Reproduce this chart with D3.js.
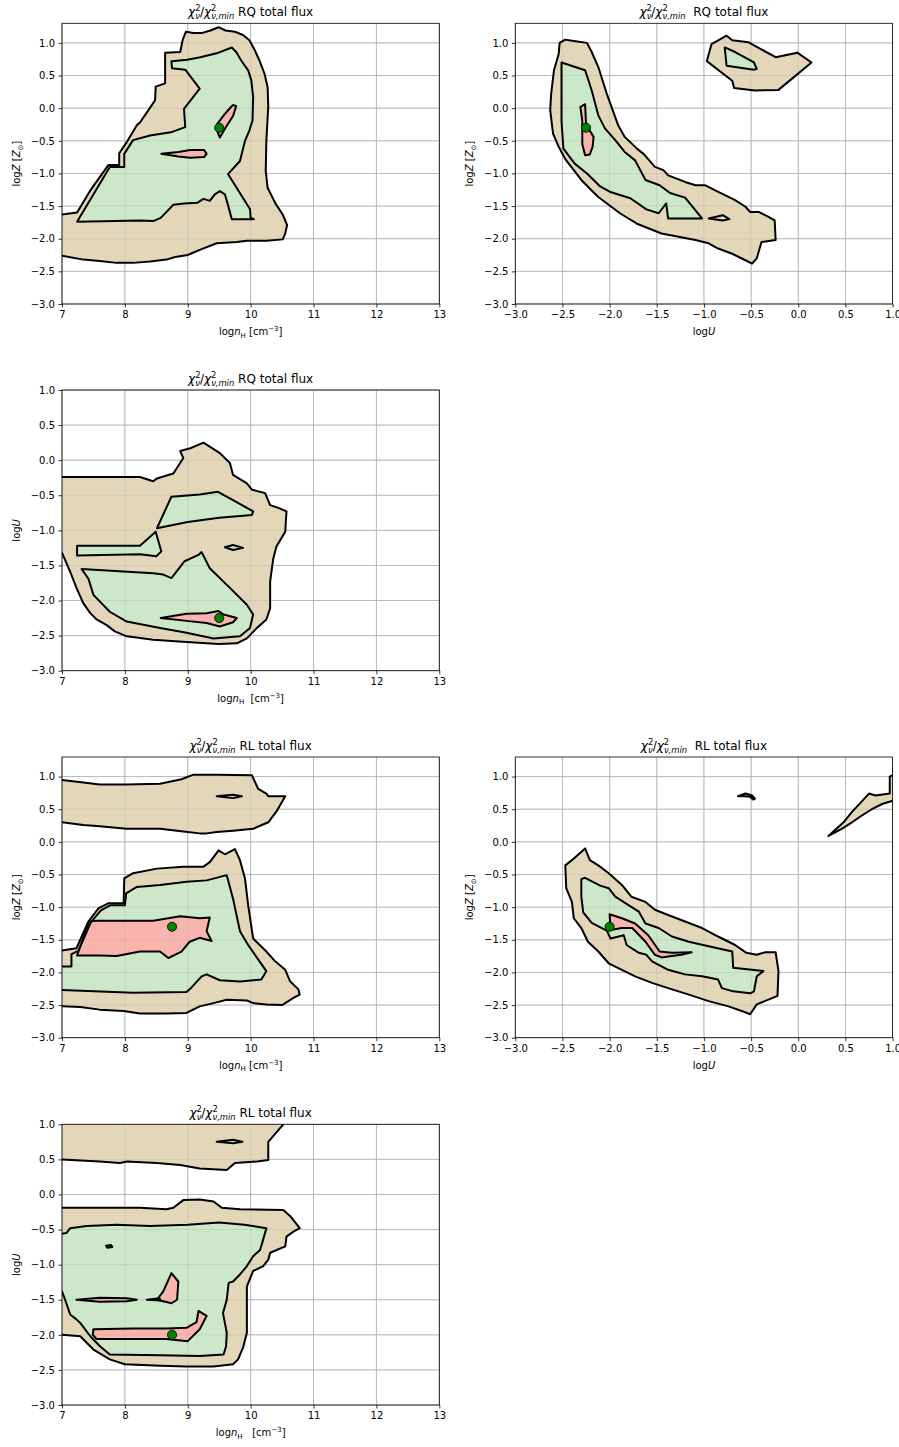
<!DOCTYPE html>
<html><head><meta charset="utf-8">
<script src="https://cdn.jsdelivr.net/npm/d3@7"></script>
<style>
body{margin:0;background:#fff}
svg{display:block;font-family:"DejaVu Sans",sans-serif}
</style>
</head><body>
<svg id="chart" width="899" height="1447"></svg>
<script>
// ---------- tick values ----------
const nHTicks = [7, 8, 9, 10, 11, 12, 13];
const uTicksX = [-3.0, -2.5, -2.0, -1.5, -1.0, -0.5, 0.0, 0.5, 1.0];
const yTicks = [-3.0, -2.5, -2.0, -1.5, -1.0, -0.5, 0.0, 0.5, 1.0];

// ---------- best-fit points [x, y] per panel ----------
const bestFit = [[9.5, -0.3], [-2.25, -0.3], [9.5, -2.25], [8.75, -1.3], [-2.0, -1.3], [8.75, -2.0]];

// ---------- panel 1: logZ vs log nH (RQ) ----------
const p1Tan = [[6.9,-1.64],[7.24,-1.60],[7.45,-1.26],[7.74,-0.87],[7.91,-0.87],[7.91,-0.69],[8.03,-0.52],[8.19,-0.26],[8.24,-0.22],[8.48,0.12],[8.49,0.33],[8.64,0.38],[8.64,0.85],[8.88,0.86],[8.92,1.05],[8.97,1.17],[9.09,1.15],[9.22,1.15],[9.36,1.19],[9.49,1.24],[9.60,1.19],[9.75,1.17],[9.88,1.12],[9.98,1.04],[10.06,0.90],[10.14,0.73],[10.22,0.53],[10.27,0.32],[10.28,0.02],[10.25,-0.50],[10.24,-0.96],[10.27,-1.22],[10.40,-1.47],[10.51,-1.63],[10.58,-1.79],[10.55,-1.92],[10.51,-2.01],[10.25,-2.03],[9.94,-2.03],[9.78,-2.05],[9.46,-2.07],[9.19,-2.17],[9.00,-2.25],[8.80,-2.28],[8.66,-2.32],[8.40,-2.35],[8.13,-2.37],[7.87,-2.37],[7.60,-2.34],[7.34,-2.32],[7.00,-2.26],[6.9,-2.26]];
const p1Green = [[7.24,-1.74],[8.24,-1.72],[8.45,-1.73],[8.57,-1.68],[8.70,-1.55],[8.77,-1.48],[8.94,-1.46],[9.15,-1.45],[9.25,-1.39],[9.35,-1.42],[9.43,-1.32],[9.51,-1.27],[9.59,-1.32],[9.65,-1.52],[9.70,-1.70],[10.05,-1.70],[10.00,-1.68],[9.99,-1.55],[9.64,-1.01],[9.83,-0.81],[9.91,-0.50],[9.98,-0.34],[10.03,-0.19],[10.04,0.17],[10.01,0.43],[9.96,0.58],[9.85,0.73],[9.77,0.86],[9.70,0.93],[9.46,0.84],[9.20,0.78],[8.99,0.74],[8.74,0.72],[8.75,0.61],[8.96,0.59],[9.19,0.30],[8.94,-0.01],[8.96,-0.29],[8.73,-0.37],[8.40,-0.42],[8.13,-0.49],[7.99,-0.70],[7.99,-0.90],[7.76,-0.90]];
const p1PinkA = [[9.72,0.05],[9.77,0.03],[9.72,-0.12],[9.60,-0.30],[9.51,-0.45],[9.46,-0.33],[9.47,-0.24],[9.58,-0.10],[9.68,0.01]];
const p1PinkB = [[8.58,-0.70],[8.85,-0.67],[9.04,-0.64],[9.26,-0.64],[9.30,-0.70],[9.26,-0.75],[9.04,-0.76],[8.85,-0.74]];

// ---------- panel 2: logZ vs logU (RQ) ----------
const p2Tan = [[-2.53,1.0],[-2.47,1.05],[-2.38,1.03],[-2.24,1.0],[-2.19,0.86],[-2.12,0.63],[-2.03,0.22],[-1.98,0.02],[-1.91,-0.26],[-1.84,-0.44],[-1.71,-0.62],[-1.64,-0.70],[-1.52,-0.90],[-1.43,-0.95],[-1.38,-1.03],[-1.20,-1.13],[-1.09,-1.18],[-0.99,-1.18],[-0.88,-1.26],[-0.67,-1.41],[-0.56,-1.51],[-0.51,-1.59],[-0.42,-1.59],[-0.32,-1.66],[-0.25,-1.72],[-0.24,-2.02],[-0.39,-2.05],[-0.44,-2.30],[-0.49,-2.38],[-0.56,-2.33],[-0.70,-2.23],[-0.85,-2.15],[-0.95,-2.07],[-1.09,-2.02],[-1.27,-1.97],[-1.45,-1.92],[-1.59,-1.84],[-1.71,-1.77],[-1.80,-1.69],[-1.89,-1.61],[-2.00,-1.49],[-2.12,-1.36],[-2.19,-1.26],[-2.30,-1.10],[-2.38,-0.95],[-2.47,-0.78],[-2.54,-0.59],[-2.60,-0.39],[-2.63,-0.03],[-2.62,0.22],[-2.59,0.58],[-2.54,0.83]];
const p2Green = [[-2.51,0.70],[-2.26,0.58],[-2.23,0.45],[-2.19,0.27],[-2.12,-0.11],[-2.05,-0.31],[-1.94,-0.49],[-1.84,-0.67],[-1.73,-0.80],[-1.62,-1.10],[-1.47,-1.18],[-1.36,-1.30],[-1.20,-1.37],[-1.02,-1.69],[-1.38,-1.69],[-1.40,-1.46],[-1.48,-1.61],[-1.61,-1.55],[-1.78,-1.38],[-2.00,-1.28],[-2.10,-1.20],[-2.24,-1.00],[-2.37,-0.85],[-2.49,-0.62],[-2.51,-0.20]];
const p2Pink = [[-2.31,0.02],[-2.26,0.06],[-2.25,-0.25],[-2.17,-0.44],[-2.18,-0.59],[-2.21,-0.71],[-2.26,-0.72],[-2.29,-0.55],[-2.29,-0.19]];
const p2GreenSmall = [[-0.95,-1.69],[-0.80,-1.64],[-0.73,-1.70],[-0.80,-1.72]];
const p2TanIsland = [[-0.97,0.72],[-0.92,0.98],[-0.76,1.11],[-0.70,1.04],[-0.53,1.01],[-0.24,0.78],[-0.01,0.85],[0.14,0.70],[-0.21,0.28],[-0.46,0.27],[-0.68,0.31],[-0.70,0.42]];
const p2GreenIsland = [[-0.78,0.93],[-0.67,0.86],[-0.47,0.70],[-0.44,0.60],[-0.47,0.59],[-0.76,0.65]];

// ---------- panel 3: logU vs log nH (RQ) ----------
const p3Tan = [[6.9,-0.24],[8.24,-0.24],[8.45,-0.30],[8.51,-0.26],[8.77,-0.19],[8.93,0.03],[8.88,0.13],[9.04,0.17],[9.25,0.25],[9.51,0.10],[9.67,-0.04],[9.72,-0.21],[9.94,-0.33],[10.02,-0.42],[10.23,-0.47],[10.31,-0.64],[10.44,-0.68],[10.57,-0.73],[10.55,-1.02],[10.41,-1.23],[10.36,-1.40],[10.31,-1.73],[10.31,-2.11],[10.25,-2.27],[10.10,-2.39],[9.94,-2.54],[9.78,-2.61],[9.49,-2.62],[8.98,-2.59],[8.45,-2.56],[8.03,-2.51],[7.84,-2.44],[7.71,-2.35],[7.55,-2.27],[7.45,-2.18],[7.34,-2.04],[7.23,-1.82],[7.13,-1.59],[7.00,-1.32],[6.9,-1.32]];
const p3GreenA = [[8.51,-0.97],[8.74,-0.52],[9.19,-0.49],[9.48,-0.45],[9.72,-0.57],[10.04,-0.73],[10.02,-0.78],[9.50,-0.82],[9.00,-0.88]];
const p3GreenB = [[7.24,-1.22],[8.24,-1.22],[8.49,-1.02],[8.58,-1.30],[8.50,-1.37],[8.24,-1.34],[7.24,-1.36]];
const p3GreenC = [[7.31,-1.55],[8.45,-1.61],[8.61,-1.63],[8.74,-1.68],[8.95,-1.44],[9.17,-1.35],[9.22,-1.31],[9.35,-1.54],[9.67,-1.82],[9.94,-2.06],[10.04,-2.20],[9.99,-2.39],[9.83,-2.51],[9.41,-2.54],[8.98,-2.46],[8.56,-2.39],[8.03,-2.30],[7.76,-2.16],[7.50,-1.92],[7.42,-1.69]];
const p3GreenTiny = [[9.59,-1.24],[9.72,-1.21],[9.88,-1.25],[9.72,-1.28]];
const p3Pink = [[8.57,-2.25],[8.98,-2.19],[9.30,-2.18],[9.49,-2.15],[9.57,-2.20],[9.78,-2.25],[9.72,-2.31],[9.51,-2.37],[9.30,-2.32],[8.98,-2.29]];

// ---------- panel 4: logZ vs log nH (RL) ----------
const p4TanTop = [[6.9,0.96],[7.34,0.91],[7.60,0.88],[8.03,0.88],[8.56,0.89],[8.90,0.96],[9.09,1.03],[9.46,1.03],[10.02,1.02],[10.12,0.81],[10.25,0.74],[10.28,0.70],[10.55,0.70],[10.42,0.48],[10.28,0.30],[10.04,0.20],[9.72,0.17],[9.46,0.15],[9.30,0.13],[9.19,0.13],[8.93,0.16],[8.56,0.20],[8.03,0.20],[7.60,0.24],[7.34,0.26],[7.00,0.30],[6.9,0.30]];
const p4TopInner = [[9.46,0.70],[9.72,0.72],[9.86,0.70],[9.72,0.67]];
const p4Tan = [[6.9,-1.68],[7.23,-1.63],[7.42,-1.22],[7.58,-1.02],[7.74,-0.94],[7.98,-0.94],[7.99,-0.56],[8.13,-0.48],[8.51,-0.41],[8.93,-0.38],[9.25,-0.38],[9.35,-0.31],[9.49,-0.13],[9.59,-0.19],[9.75,-0.11],[9.83,-0.28],[9.91,-0.56],[9.96,-0.97],[10.04,-1.48],[10.25,-1.68],[10.39,-1.83],[10.55,-1.96],[10.63,-2.14],[10.76,-2.26],[10.78,-2.34],[10.68,-2.39],[10.50,-2.50],[10.25,-2.49],[10.04,-2.47],[9.94,-2.43],[9.62,-2.42],[9.41,-2.47],[9.19,-2.52],[8.98,-2.62],[8.66,-2.63],[8.24,-2.63],[7.98,-2.59],[7.60,-2.57],[7.29,-2.53],[7.00,-2.52],[6.9,-2.52]];
const p4Green = [[6.9,-1.91],[7.15,-1.91],[7.15,-1.72],[7.26,-1.67],[7.46,-1.23],[7.62,-1.05],[7.77,-0.97],[8.00,-0.97],[8.02,-0.79],[8.19,-0.69],[8.56,-0.66],[8.98,-0.61],[9.30,-0.59],[9.62,-0.51],[9.72,-0.87],[9.83,-1.37],[9.96,-1.58],[10.25,-1.98],[10.17,-2.11],[9.83,-2.14],[9.51,-2.12],[9.30,-2.03],[9.22,-2.06],[9.06,-2.23],[8.98,-2.30],[8.13,-2.31],[7.00,-2.27],[6.9,-2.27]];
const p4Pink = [[7.24,-1.74],[7.43,-1.22],[7.55,-1.21],[8.45,-1.21],[8.88,-1.14],[9.19,-1.17],[9.35,-1.16],[9.30,-1.37],[9.38,-1.52],[9.19,-1.47],[9.03,-1.53],[8.90,-1.68],[8.69,-1.78],[8.56,-1.68],[8.24,-1.68],[7.87,-1.75],[7.60,-1.74]];

// ---------- panel 5: logZ vs logU (RL) ----------
const p5Tan = [[-2.47,-0.36],[-2.40,-0.28],[-2.26,-0.10],[-2.21,-0.28],[-2.12,-0.36],[-2.01,-0.48],[-1.87,-0.66],[-1.77,-0.84],[-1.62,-0.92],[-1.52,-1.04],[-1.38,-1.12],[-1.20,-1.22],[-1.02,-1.32],[-0.85,-1.45],[-0.67,-1.58],[-0.55,-1.70],[-0.44,-1.73],[-0.35,-1.69],[-0.24,-1.69],[-0.21,-1.98],[-0.22,-2.36],[-0.44,-2.49],[-0.51,-2.64],[-0.60,-2.59],[-0.74,-2.52],[-0.95,-2.44],[-1.16,-2.34],[-1.38,-2.24],[-1.55,-2.16],[-1.73,-2.06],[-1.87,-1.96],[-2.01,-1.86],[-2.12,-1.68],[-2.23,-1.53],[-2.30,-1.32],[-2.38,-1.17],[-2.40,-0.92],[-2.46,-0.71]];
const p5Green = [[-2.30,-0.57],[-2.26,-0.55],[-2.10,-0.67],[-2.01,-0.71],[-1.94,-0.84],[-1.80,-0.97],[-1.69,-1.07],[-1.62,-1.25],[-1.48,-1.32],[-1.34,-1.45],[-1.16,-1.53],[-0.95,-1.60],[-0.70,-1.68],[-0.69,-1.93],[-0.37,-1.98],[-0.44,-2.06],[-0.47,-2.29],[-0.51,-2.32],[-0.69,-2.29],[-0.81,-2.24],[-0.85,-2.11],[-1.02,-2.06],[-1.20,-2.03],[-1.38,-1.96],[-1.55,-1.83],[-1.61,-1.73],[-1.69,-1.70],[-1.82,-1.58],[-1.85,-1.43],[-1.99,-1.48],[-2.03,-1.36],[-2.19,-1.24],[-2.28,-1.08],[-2.30,-0.84]];
const p5Pink = [[-2.00,-1.11],[-1.87,-1.17],[-1.73,-1.25],[-1.59,-1.43],[-1.47,-1.68],[-1.34,-1.70],[-1.13,-1.69],[-1.24,-1.73],[-1.34,-1.75],[-1.45,-1.77],[-1.52,-1.73],[-1.62,-1.53],[-1.76,-1.32],[-1.87,-1.32],[-1.99,-1.35]];
const p5Small = [[-0.64,0.70],[-0.56,0.74],[-0.49,0.71],[-0.46,0.66],[-0.48,0.65],[-0.51,0.69],[-0.57,0.70]];
const p5Sliver = [[0.32,0.09],[0.48,0.30],[0.57,0.46],[0.75,0.74],[0.82,0.71],[0.97,0.74],[0.97,1.00],[1.05,1.05],[1.05,0.62],[1.00,0.63],[0.89,0.58],[0.78,0.50],[0.67,0.40],[0.57,0.30],[0.46,0.20]];

// ---------- panel 6: logU vs log nH (RL) ----------
const p6TanTop = [[6.9,1.2],[10.6,1.2],[10.52,1.0],[10.28,0.75],[10.28,0.49],[10.10,0.47],[9.75,0.45],[9.62,0.35],[9.19,0.37],[8.88,0.42],[8.51,0.45],[8.03,0.47],[7.92,0.45],[7.60,0.47],[7.00,0.50],[6.9,0.50]];
const p6TopInner = [[9.46,0.75],[9.72,0.78],[9.87,0.75],[9.72,0.73]];
const p6Tan = [[6.9,-0.19],[8.24,-0.19],[8.66,-0.21],[8.77,-0.19],[8.93,-0.08],[9.19,-0.07],[9.41,-0.10],[9.54,-0.19],[9.83,-0.21],[10.52,-0.22],[10.63,-0.31],[10.78,-0.48],[10.68,-0.53],[10.57,-0.60],[10.55,-0.74],[10.31,-0.83],[10.28,-0.93],[10.20,-1.02],[10.04,-1.09],[9.94,-1.31],[9.94,-1.97],[9.88,-2.18],[9.80,-2.35],[9.72,-2.42],[9.41,-2.45],[8.98,-2.45],[8.56,-2.44],[8.00,-2.42],[7.76,-2.35],[7.50,-2.21],[7.29,-2.02],[7.00,-2.00],[6.9,-2.00]];
const p6Green = [[6.9,-0.57],[7.07,-0.55],[7.13,-0.48],[7.39,-0.45],[7.87,-0.43],[8.40,-0.45],[9.00,-0.43],[9.50,-0.40],[9.90,-0.43],[10.25,-0.48],[10.20,-0.64],[10.15,-0.79],[10.04,-0.88],[9.94,-1.02],[9.83,-1.14],[9.72,-1.24],[9.65,-1.26],[9.62,-1.50],[9.56,-1.69],[9.62,-1.97],[9.61,-2.16],[9.57,-2.28],[9.19,-2.30],[8.56,-2.29],[7.76,-2.28],[7.60,-2.16],[7.45,-2.02],[7.29,-1.83],[7.23,-1.78],[7.13,-1.71],[7.05,-1.50],[7.00,-1.38],[6.9,-1.38]];
const p6PinkA = [[8.74,-1.12],[8.85,-1.24],[8.83,-1.50],[8.74,-1.55],[8.51,-1.50],[8.61,-1.38]];
const p6PinkB = [[7.50,-1.92],[8.13,-1.91],[8.66,-1.91],[8.98,-1.90],[9.14,-1.82],[9.17,-1.66],[9.30,-1.73],[9.19,-1.92],[9.00,-2.09],[8.66,-2.06],[8.13,-2.06],[7.55,-2.06],[7.49,-2.00]];
const p6SliverA = [[7.23,-1.50],[7.60,-1.47],[8.03,-1.48],[8.19,-1.50],[8.03,-1.52],[7.60,-1.53]];
const p6SliverB = [[8.35,-1.50],[8.55,-1.48],[8.57,-1.51]];
const p6Dot = [[7.70,-0.73],[7.78,-0.72],[7.80,-0.75],[7.72,-0.76]];

// ---------- colours ----------
const tanColor = "#e4d6b9";
const greenColor = "#cde8c8";
const pinkColor = "#f8b4ad";

// ---------- layout ----------
const AW = 377.3, AH = 280.7;
const colX = [62, 515.3];
const rowY = [23.3, 390, 757, 1124.3];

const panels = [
  {col:0,row:0,xd:[7,13],yd:[-3,1.3],xt:nHTicks,xf:d3.format("d"),title:" RQ total flux",xl:"nH",xs:" ",yl:"Z",
   tan:[p1Tan],green:[p1Green],pink:[p1PinkA,p1PinkB],bf:bestFit[0]},
  {col:1,row:0,xd:[-3,1],yd:[-3,1.3],xt:uTicksX,xf:d3.format(".1f"),title:"  RQ total flux",xl:"U",yl:"Z",
   tan:[p2Tan,p2TanIsland],green:[p2Green,p2GreenSmall,p2GreenIsland],pink:[p2Pink],bf:bestFit[1]},
  {col:0,row:1,xd:[7,13],yd:[-3,1],xt:nHTicks,xf:d3.format("d"),title:" RQ total flux",xl:"nH",xs:"  ",yl:"U",
   tan:[p3Tan],green:[p3GreenA,p3GreenB,p3GreenC,p3GreenTiny],pink:[p3Pink],bf:bestFit[2]},
  {col:0,row:2,xd:[7,13],yd:[-3,1.3],xt:nHTicks,xf:d3.format("d"),title:" RL total flux",xl:"nH",xs:" ",yl:"Z",
   tan:[p4TanTop,p4Tan],green:[p4TopInner,p4Green],pink:[p4Pink],bf:bestFit[3]},
  {col:1,row:2,xd:[-3,1],yd:[-3,1.3],xt:uTicksX,xf:d3.format(".1f"),title:"  RL total flux",xl:"U",yl:"Z",
   tan:[p5Tan,p5Small,p5Sliver],green:[p5Green],pink:[p5Pink],bf:bestFit[4]},
  {col:0,row:3,xd:[7,13],yd:[-3,1],xt:nHTicks,xf:d3.format("d"),title:" RL total flux",xl:"nH",xs:"   ",yl:"U",
   tan:[p6TanTop,p6Tan],green:[p6Green,p6TopInner,p6Dot],pink:[p6PinkA,p6PinkB,p6SliverA,p6SliverB],bf:bestFit[5]}
];

const svg = d3.select("#chart");
const defs = svg.append("defs");

function mathTitle(g, cx, yb, tail){
  const t = g.append("text").attr("x",cx).attr("y",yb).attr("text-anchor","middle")
    .attr("font-size",12).attr("fill","#000").style("white-space","pre");
  t.append("tspan").attr("font-style","italic").text("χ");
  t.append("tspan").attr("font-size",8.4).attr("dy",-5).text("2");
  t.append("tspan").attr("font-size",8.4).attr("font-style","italic").attr("dx",-5.3).attr("dy",8).text("ν");
  t.append("tspan").attr("dy",-3).text("/");
  t.append("tspan").attr("font-style","italic").text("χ");
  t.append("tspan").attr("font-size",8.4).attr("dy",-5).text("2");
  t.append("tspan").attr("font-size",8.4).attr("font-style","italic").attr("dx",-5.3).attr("dy",8).text("ν,min");
  t.append("tspan").attr("dy",-3).text(tail);
}

function xLabel(g, cx, yb, kind, sp){
  const t = g.append("text").attr("x",cx).attr("y",yb).attr("text-anchor","middle")
    .attr("font-size",10).attr("fill","#000").style("white-space","pre");
  t.append("tspan").text("log");
  if(kind==="nH"){
    t.append("tspan").attr("font-style","italic").text("n");
    t.append("tspan").attr("font-size",7).attr("dy",2.5).text("H");
    t.append("tspan").attr("dy",-2.5).text(sp+"[cm");
    t.append("tspan").attr("font-size",7).attr("dy",-4).text("−3");
    t.append("tspan").attr("dy",4).text("]");
  } else {
    t.append("tspan").attr("font-style","italic").text("U");
  }
}

function yLabel(g, xb, cy, kind){
  const t = g.append("text").attr("transform",`translate(${xb},${cy}) rotate(-90)`)
    .attr("text-anchor","middle").attr("font-size",10).attr("fill","#000").style("white-space","pre");
  t.append("tspan").text("log");
  if(kind==="Z"){
    t.append("tspan").attr("font-style","italic").text("Z");
    t.append("tspan").text(" [");
    t.append("tspan").attr("font-style","italic").text("Z");
    t.append("tspan").attr("font-size",7).attr("dy",2.5).text("⊙");
    t.append("tspan").attr("dy",-2.5).text("]");
  } else {
    t.append("tspan").attr("font-style","italic").text("U");
  }
}

panels.forEach((p,i)=>{
  const L = colX[p.col], T = rowY[p.row];
  const x = d3.scaleLinear().domain(p.xd).range([L, L+AW]);
  const y = d3.scaleLinear().domain(p.yd).range([T+AH, T]);
  const g = svg.append("g");
  const cid = "clip"+i;
  defs.append("clipPath").attr("id",cid).append("rect").attr("x",L).attr("y",T).attr("width",AW).attr("height",AH);
  const yt = yTicks.filter(v=>v>=p.yd[0]-1e-9 && v<=p.yd[1]+1e-9);

  function grid(sel, op){
    sel.selectAll("line.gx").data(p.xt).join("line").attr("class","gx")
      .attr("x1",d=>x(d)).attr("x2",d=>x(d)).attr("y1",T).attr("y2",T+AH)
      .attr("stroke","#b0b0b0").attr("stroke-width",0.8).attr("opacity",op);
    sel.selectAll("line.gy").data(yt).join("line").attr("class","gy")
      .attr("y1",d=>y(d)).attr("y2",d=>y(d)).attr("x1",L).attr("x2",L+AW)
      .attr("stroke","#b0b0b0").attr("stroke-width",0.8).attr("opacity",op);
  }
  grid(g.append("g"), 1);

  const line = d3.line().x(d=>x(d[0])).y(d=>y(d[1]));
  const poly = d=>line(d)+"Z";
  const cg = g.append("g").attr("clip-path",`url(#${cid})`);
  const levels = [[p.tan,tanColor],[p.green,greenColor],[p.pink,pinkColor]];
  levels.forEach(([arr,col])=>{
    cg.append("g").selectAll("path").data(arr).join("path").attr("d",poly).attr("fill",col).attr("stroke","none");
  });
  grid(cg.append("g"), 0.45);
  levels.forEach(([arr])=>{
    cg.append("g").selectAll("path").data(arr).join("path").attr("d",poly)
      .attr("fill","none").attr("stroke","#000").attr("stroke-width",2).attr("stroke-linejoin","round");
  });

  // best-fit marker
  g.append("circle").attr("cx",x(p.bf[0])).attr("cy",y(p.bf[1])).attr("r",4.6)
    .attr("fill","#008000").attr("stroke","#000").attr("stroke-width",0.8);

  // axes
  const ax = g.append("g").attr("transform",`translate(0,${T+AH})`)
    .call(d3.axisBottom(x).tickValues(p.xt).tickFormat(p.xf).tickSize(3.5).tickPadding(3.5).tickSizeOuter(0));
  const ay = g.append("g").attr("transform",`translate(${L},0)`)
    .call(d3.axisLeft(y).tickValues(yt).tickFormat(d3.format(".1f")).tickSize(3.5).tickPadding(3.5).tickSizeOuter(0));
  [ax,ay].forEach(a=>{
    a.selectAll("text").attr("font-size",10).attr("font-family","DejaVu Sans").attr("fill","#000");
    a.selectAll("line").attr("stroke","#000").attr("stroke-width",0.8);
    a.select(".domain").remove();
  });
  // spines
  g.append("rect").attr("x",L).attr("y",T).attr("width",AW).attr("height",AH)
    .attr("fill","none").attr("stroke","#000").attr("stroke-width",0.8);

  mathTitle(g, L+AW/2, T-7.5, p.title);
  xLabel(g, L+AW/2, T+AH+31, p.xl, p.xs||" ");
  yLabel(g, L-42, T+AH/2, p.yl);
});
</script>
</body></html>
